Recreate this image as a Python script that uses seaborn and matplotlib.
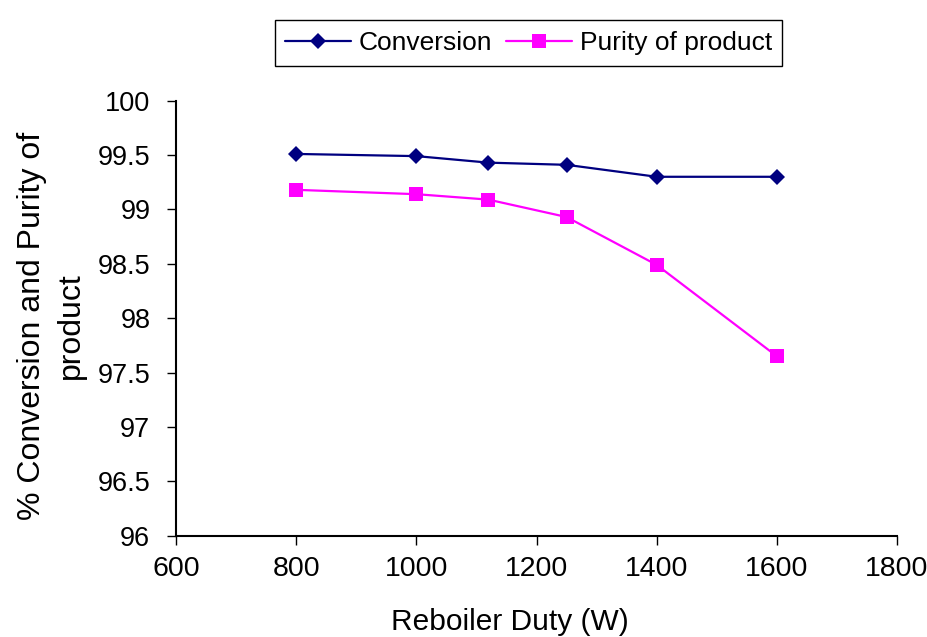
import matplotlib
matplotlib.use("Agg")
import matplotlib.pyplot as plt
import seaborn as sns
import pandas as pd

# Reboiler duty (W) and measured results (%)
duty = [800, 1000, 1120, 1250, 1400, 1600]
conversion = [99.51, 99.49, 99.43, 99.41, 99.30, 99.30]
purity = [99.18, 99.14, 99.09, 98.93, 98.49, 97.65]

x_ticks = [600, 800, 1000, 1200, 1400, 1600, 1800]
y_ticks = [96, 96.5, 97, 97.5, 98, 98.5, 99, 99.5, 100]
y_tick_labels = ["96", "96.5", "97", "97.5", "98", "98.5", "99", "99.5", "100"]

sns.set_style("white")
plt.rcParams["font.family"] = ["Liberation Sans", "DejaVu Sans"]

df = pd.DataFrame({"duty": duty, "Conversion": conversion, "Purity of product": purity})

fig = plt.figure(figsize=(9.28, 6.37), dpi=100)
ax = fig.add_axes([0.1897, 0.159, 0.7769, 0.683])

sns.lineplot(data=df, x="duty", y="Conversion", ax=ax, color="#000080",
             marker="D", markersize=8.5, markeredgewidth=0, linewidth=1.6,
             label="Conversion")
sns.lineplot(data=df, x="duty", y="Purity of product", ax=ax, color="#FF00FF",
             marker="s", markersize=10, markeredgewidth=0, linewidth=1.6,
             label="Purity of product")

ax.set_xlim(600, 1800)
ax.set_ylim(96, 100)
ax.set_xticks(x_ticks)
ax.set_yticks(y_ticks)
ax.set_yticklabels(y_tick_labels)

for side in ("top", "right"):
    ax.spines[side].set_visible(False)
for side in ("left", "bottom"):
    ax.spines[side].set_color("black")
    ax.spines[side].set_linewidth(1.5)

ax.tick_params(axis="both", which="major", bottom=True, left=True,
               direction="out", length=6.5, width=1.0,
               color="black", labelcolor="black")
ax.tick_params(axis="x", pad=8, labelsize=20.5)
ax.tick_params(axis="y", pad=12, labelsize=19.5)
ax.grid(False)

ax.set_xlabel("Reboiler Duty (W)", fontsize=21.5, color="black")
ax.set_ylabel("% Conversion and Purity of\nproduct", fontsize=23, color="black",
              linespacing=1.4)
ax.xaxis.set_label_coords(0.463, -0.167)
ax.yaxis.set_label_coords(-0.125, 0.482)

handles, labels = ax.get_legend_handles_labels()
ax.get_legend().remove()
leg = fig.legend(handles, labels, loc="center", ncol=2,
                 bbox_to_anchor=(528.5 / 928, 1 - 43 / 637),
                 fontsize=19, frameon=True, fancybox=False, framealpha=1,
                 edgecolor="black", handlelength=2.5, handletextpad=0.3,
                 columnspacing=0.5, borderpad=0.4)
leg.get_frame().set_linewidth(1.0)
for t in leg.get_texts():
    t.set_color("black")

fig.savefig("out.png", dpi=100, facecolor="white")
